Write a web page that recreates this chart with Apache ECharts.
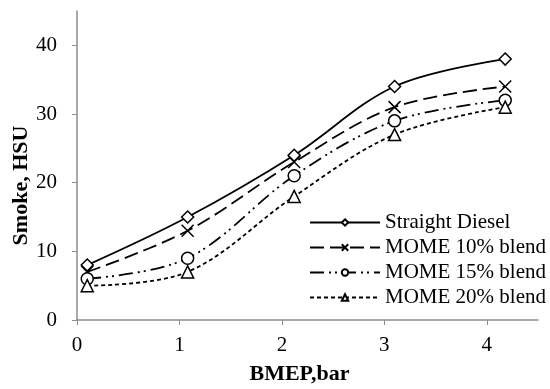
<!DOCTYPE html>
<html>
<head>
<meta charset="utf-8">
<script src="https://cdn.jsdelivr.net/npm/echarts@6/dist/echarts.min.js"></script>
<style>
  html, body { margin: 0; padding: 0; background: #fff; }
  #chart { width: 550px; height: 389px; }
</style>
</head>
<body>
<div id="chart"></div>
<script>
// BMEP (bar) for each load step
const bmep = [0.1, 1.08, 2.12, 3.1, 4.18];
// smoke readings, HSU
const diesel = [8, 15, 24, 34, 38];
const mome10 = [7, 13, 23, 31, 34];
const mome15 = [6, 9, 21, 29, 32];
const mome20 = [5, 7, 18, 27, 31];
const seriesNames = ['Straight Diesel', 'MOME 10% blend', 'MOME 15% blend', 'MOME 20% blend'];

const font = 'Times New Roman, Liberation Serif, serif';
const crossPath = 'path://M0,0L10,10M10,0L0,10';

const pairs = (ys) => bmep.map((x, i) => [x, ys[i]]);

function line(name, ys, symbol, dash) {
  return {
    name: name,
    type: 'line',
    smooth: 0.35,
    data: pairs(ys),
    symbol: symbol,
    symbolSize: 12,
    itemStyle: { color: '#fff', borderColor: '#000', borderWidth: 1.5 },
    lineStyle: { color: '#000', width: 1.8, type: dash },
    emphasis: { disabled: true }
  };
}

echarts.init(document.getElementById('chart')).setOption({
  animation: false,
  textStyle: { fontFamily: font },
  grid: { left: 77, right: 12, top: 11, bottom: 69, outerBoundsMode: 'none', containLabel: false },
  legend: {
    orient: 'vertical',
    left: 304,
    top: 207,
    itemGap: 4,
    itemWidth: 70,
    itemHeight: 8,
    textStyle: { fontFamily: font, fontSize: 21, color: '#000' },
    data: seriesNames
  },
  xAxis: {
    type: 'value',
    min: 0, max: 4.5, interval: 1,
    name: 'BMEP,bar',
    nameLocation: 'middle',
    nameGap: 43,
    nameTextStyle: { fontFamily: font, fontSize: 22, fontWeight: 'bold', color: '#000', padding: [0, 16, 0, 0] },
    axisLine: { show: true, lineStyle: { color: '#8c8c8c', width: 1.5 } },
    axisTick: { show: true, length: 5, lineStyle: { color: '#8c8c8c' } },
    axisLabel: { fontFamily: font, fontSize: 21, color: '#000', margin: 15, showMaxLabel: false },
    splitLine: { show: false }
  },
  yAxis: {
    type: 'value',
    min: 0, max: 45, interval: 10,
    name: 'Smoke, HSU',
    nameLocation: 'middle',
    nameMoveOverlap: false,
    nameGap: 45,
    nameTextStyle: { fontFamily: font, fontSize: 22, fontWeight: 'bold', color: '#000', padding: [0, 40, 0, 0] },
    axisLine: { show: true, lineStyle: { color: '#8c8c8c', width: 1.5 } },
    axisTick: { show: true, length: 5, lineStyle: { color: '#8c8c8c' } },
    axisLabel: { fontFamily: font, fontSize: 21, color: '#000', margin: 20, showMaxLabel: false },
    splitLine: { show: false }
  },
  series: [
    line(seriesNames[0], diesel, 'diamond', 'solid'),
    line(seriesNames[1], mome10, crossPath, [14, 6]),
    line(seriesNames[2], mome15, 'circle', [14, 5, 2, 4, 2, 5]),
    line(seriesNames[3], mome20, 'triangle', [4, 3])
  ]
});
</script>
</body>
</html>
